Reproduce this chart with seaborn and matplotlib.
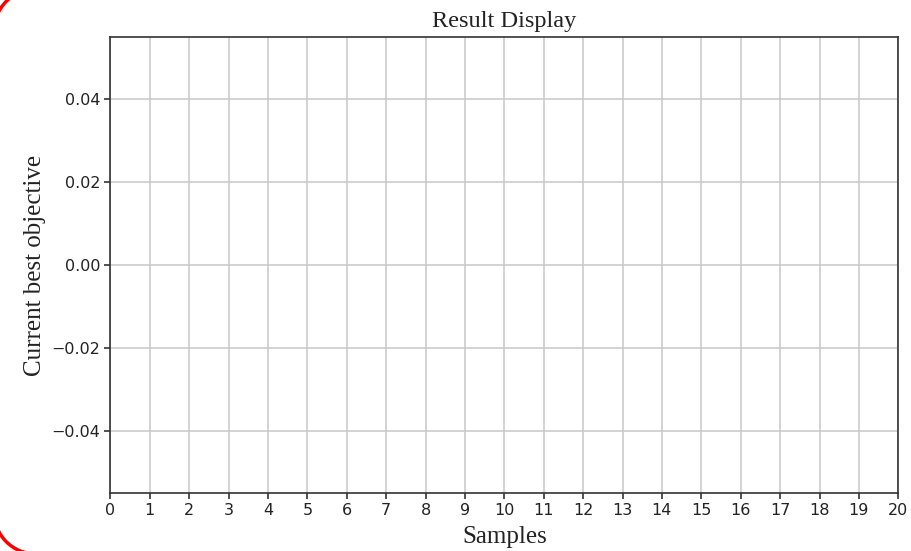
import matplotlib
matplotlib.use("Agg")
import matplotlib.pyplot as plt
import seaborn as sns
from matplotlib.patches import Arc

# no evaluated samples yet -> empty curve
samples = []
best_objective = []
x_ticks = list(range(0, 21))
y_ticks = [-0.04, -0.02, 0.00, 0.02, 0.04]

sns.set_style("ticks")

fig, ax = plt.subplots(figsize=(9.12, 5.51), dpi=100)
sns.lineplot(x=samples, y=best_objective, ax=ax)

ax.set_xlim(0, 20)
ax.set_ylim(-0.055, 0.055)
ax.set_xticks(x_ticks)
ax.set_yticks(y_ticks)
ax.set_yticklabels([f"{v:.2f}".replace("-", "\u2212") for v in y_ticks])
ax.tick_params(labelsize=11.5, colors="#333333", labelcolor="#222222",
               length=4, width=1.2, pad=3)
ax.grid(True, color="#c8c8c8", linewidth=1.1)
for s in ax.spines.values():
    s.set_color("#333333")
    s.set_linewidth(1.2)
    s.set_visible(True)

serif = ["Liberation Serif", "DejaVu Serif"]
ax.set_title("Result Display", fontsize=17.5, family=serif, pad=7, color="#222222")
ax.set_xlabel("Samples", fontsize=18, family=serif, labelpad=6, color="#222222")
ax.set_ylabel("Current best objective", fontsize=18, family=serif, labelpad=4,
              color="#222222")

fig.subplots_adjust(left=0.121, right=0.985, top=0.933, bottom=0.105)

# rounded red corners of the screenshot frame, on a pixel-unit overlay
over = fig.add_axes([0, 0, 1, 1], zorder=-1)
over.set_xlim(0, 912)
over.set_ylim(551, 0)
over.axis("off")
over.patch.set_alpha(0)
over.add_patch(Arc((36, 31), 84, 84, theta1=180, theta2=270,
                   color="red", linewidth=2.5, clip_on=False))
over.add_patch(Arc((36, 512), 84, 84, theta1=90, theta2=180,
                   color="red", linewidth=2.5, clip_on=False))

fig.savefig("out.png", dpi=100)
